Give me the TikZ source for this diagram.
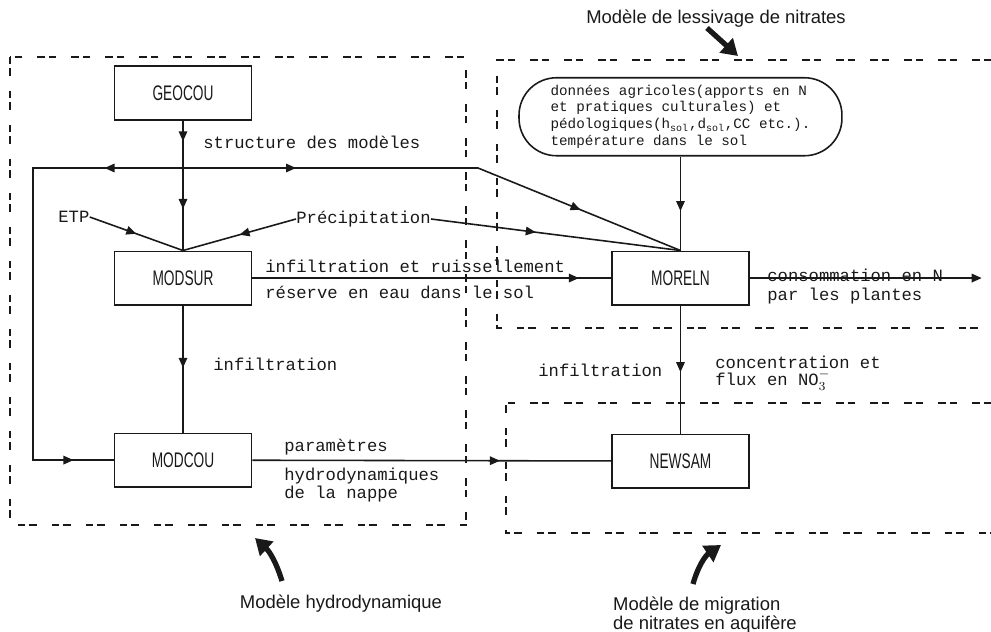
\documentclass[tikz,border=0pt]{standalone}
\usepackage{fontspec}
\setmainfont{Liberation Serif}
\setsansfont{Liberation Sans}
\setmonofont{Liberation Mono}
\newfontfamily\modfont[FakeStretch=0.65]{Liberation Sans}
\usepackage{tikz}
\usetikzlibrary{arrows.meta, positioning, decorations.markings}
\definecolor{inkblack}{RGB}{25, 25, 25}

\tikzset{
    midarr/.style={postaction={decorate, decoration={markings, mark=at position #1 with {\arrow{Triangle[length=0.2cm, width=0.17cm]}}}}}
}

\begin{document}
\begin{tikzpicture}[
    x=0.02cm, y=-0.02cm,
    every node/.style={font=\ttfamily\fontsize{9.8}{11}\selectfont, text=inkblack},
    link/.style={draw=inkblack, line width=0.9pt},
    model/.style={rectangle, draw=inkblack, line width=0.9pt, minimum width=2.74cm, minimum height=1.07cm, font=\modfont\fontsize{12}{14}\selectfont},
    databox/.style={rectangle, rounded corners=0.75cm, draw=inkblack, line width=0.9pt, minimum width=6.46cm, minimum height=1.56cm, align=left, font=\ttfamily\fontsize{8.1}{9.6}\selectfont},
    lbl/.style={anchor=west, inner sep=0pt},
    title/.style={font=\sffamily\fontsize{10.5}{9.8}\selectfont, align=left},
    zone/.style={draw=inkblack, line width=0.9pt, dash pattern=on 0.15cm off 0.08cm on 0.15cm off 0.3cm},
    pointer/.style={draw=inkblack, line width=3pt, -{Triangle[length=0.32cm, width=0.38cm]}}
]
\useasboundingbox (0,0) rectangle (991,632);

% model zones
\draw[zone] (10,57) rectangle (466,525);
\draw[zone] (991,60) -- (497,60) -- (497,328) -- (991,328);
\draw[zone] (991,403) -- (506,403) -- (506,533) -- (991,533);

% models
\node[model] (geocou) at (183,93) {GEOCOU};
\node[model, below=2.6cm of geocou] (modsur) {MODSUR};
\node[model, below=2.54cm of modsur] (modcou) {MODCOU};
\node[model, right=7.18cm of modsur] (moreln) {MORELN};
\node[model, below=2.56cm of moreln] (newsam) {NEWSAM};
\node[databox, above=1.88cm of moreln] (donnees) {données agricoles(apports en N\\et pratiques culturales) et\\pédologiques(h\textsubscript{sol},d\textsubscript{sol},CC etc.).\\température dans le sol};

% inputs
\node[lbl] (etp) at (58,217) {ETP};
\node[lbl] (precip) at (296,219) {Précipitation};

% labels
\node[lbl] (lstruct) at (203,142) {structure des modèles};
\node[lbl] (linfruis) at (265,266) {infiltration et ruissellement};
\node[lbl] (lreserve) at (265,292) {réserve en eau dans le sol};
\node[lbl] (linfil) at (213,364) {infiltration};
\node[lbl] (lparam) at (284,447) {paramètres};
\node[lbl, align=left, font=\ttfamily\fontsize{9.8}{9}\selectfont] (lhydro) at (284,485) {hydrodynamiques\\de la nappe};
\node[lbl] (lconso) at (767,275) {consommation en N};
\node[lbl] (lplant) at (767,296) {par les plantes};
\node[lbl] (linfnit) at (538,370) {infiltration};
\node[lbl, align=left, font=\ttfamily\fontsize{9.8}{9.8}\selectfont] (lconc) at (715,373) {concentration et\\flux en NO$_3^-$};

% titles
\node[title] (tlessiv) at (716,19) {Modèle de lessivage de nitrates};
\node[title] (thydro) at (341,604) {Modèle hydrodynamique};
\node[title, anchor=west] (tmigr) at (607,615) {Modèle de migration\\ de nitrates en aquifère};

% junctions
\coordinate (jn) at (183,168);
\coordinate (ltop) at (33,168);
\coordinate (lbot) at (ltop |- modcou.west);
\coordinate (rbend) at (478,168);
\coordinate[right=4.64cm of moreln.east] (conso);

\draw[link, midarr=0.16, midarr=0.68] (geocou) -- (modsur);
\draw[link, midarr=0.15, midarr=0.923] (jn) -- (ltop) -- (lbot) -- (modcou.west);
\draw[link, midarr=0.22, midarr=0.79] (jn) -- (rbend) -- (moreln.north);
\draw[link, midarr=0.5] (etp.east) -- (modsur.north);
\draw[link, midarr=0.5] (precip.west) -- (modsur.north);
\draw[link, midarr=0.42] (precip.east) -- (moreln.north);
\draw[link, midarr=0.58] (donnees) -- (moreln);
\draw[link, midarr=0.91] (modsur) -- (moreln);
\draw[link, midarr=0.49] (modsur) -- (modcou);
\draw[link, midarr=0.69] (modcou) -- (newsam);
\draw[link, -{Triangle[length=0.2cm, width=0.17cm]}] (moreln) -- (conso);
\draw[link, midarr=0.52] (moreln) -- (newsam);

% pointers to the zones
\coordinate (plessa) at (707,28);
\coordinate (plessb) at (738,56);
\coordinate (phydroa) at (282,581);
\coordinate (phydrob) at (255,538);
\coordinate (pmigra) at (693,584);
\coordinate (pmigrb) at (721,545);
\draw[pointer] (plessa) -- (plessb);
\draw[pointer] (phydroa) to[bend right=15] (phydrob);
\draw[pointer] (pmigra) to[bend left=20] (pmigrb);

\end{tikzpicture}
\end{document}
